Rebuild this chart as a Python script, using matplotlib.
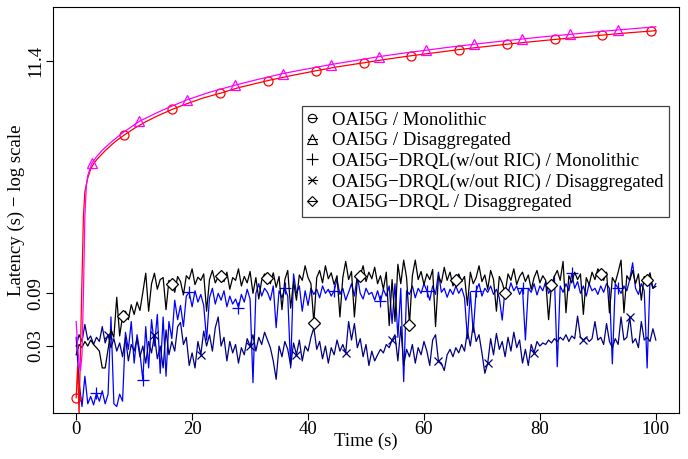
import numpy as np
import matplotlib
matplotlib.use("Agg")
import matplotlib.pyplot as plt
from matplotlib.lines import Line2D

plt.rcParams['font.family'] = ['Liberation Serif', 'DejaVu Serif']
plt.rcParams['font.size'] = 13.5

#--- OAI5G curves (smooth latency growth)
red_t = [0, 0.25, 0.5, 0.75, 1.0, 1.25, 1.5, 2.0, 2.5, 3, 3.5, 4, 5, 6, 7, 8.3, 10, 12, 14,
         16.6, 19, 22, 24.8, 28, 33.1, 37, 41.3, 45, 49.6, 54, 57.8, 62, 66.1, 70, 74.3, 78,
         82.6, 86, 90.8, 95, 99.1, 100]
red_v = [0.0102, 0.02, 0.0072, 0.03, 0.12, 0.45, 0.75, 1.0, 1.2, 1.34, 1.45, 1.55, 1.76, 1.97,
         2.18, 2.44, 2.8, 3.22, 3.63, 4.17, 4.67, 5.3, 5.82, 6.55, 7.6, 8.4, 9.3, 10.1, 11.0,
         11.95, 12.75, 13.6, 14.5, 15.3, 16.2, 16.95, 17.9, 18.6, 19.6, 20.5, 21.3, 21.5]
red_marks = [0, 8.3, 16.6, 24.8, 33.1, 41.3, 49.6, 57.8, 66.1, 74.3, 82.6, 90.8, 99.1]

mag_t = [0, 0.25, 0.5, 0.75, 1.0, 1.25, 1.5, 1.75, 2.0, 2.7, 3.5, 4.5, 6, 8, 10.9, 14, 16, 19.2,
         23, 27.4, 31, 35.7, 39, 43.9, 48, 52.2, 56, 60.4, 64, 68.7, 72, 76.9, 81, 85.2, 89,
         93.4, 97, 100]
mag_v = [0.05, 0.03, 0.021, 0.018, 0.025, 0.09, 0.45, 0.85, 1.05, 1.35, 1.55, 1.78, 2.1, 2.55,
         3.25, 3.9, 4.35, 5.1, 5.95, 6.9, 7.7, 8.8, 9.5, 10.6, 11.5, 12.5, 13.35, 14.3, 15.15,
         16.2, 16.95, 18.05, 19.0, 19.9, 20.8, 21.8, 22.6, 23.3]
mag_marks = [2.7, 10.9, 19.2, 27.4, 35.7, 43.9, 52.2, 60.4, 68.7, 76.9, 85.2, 93.4]

#--- DRQL variants, sampled every 0.5 s from t=0 to t=100
blue_v = [0.036, 0.014, 0.0085, 0.016, 0.009, 0.0105, 0.0088, 0.0112, 0.0095, 0.0118,
          0.009, 0.011, 0.055, 0.009, 0.0085, 0.011, 0.0095, 0.04, 0.028, 0.05,
          0.021, 0.038, 0.026, 0.0148, 0.045, 0.019, 0.052, 0.03, 0.058, 0.017,
          0.055, 0.016, 0.05, 0.035, 0.078, 0.052, 0.07, 0.045, 0.085, 0.092,
          0.068, 0.095, 0.075, 0.088, 0.07, 0.034, 0.082, 0.1, 0.072, 0.09,
          0.078, 0.095, 0.068, 0.085, 0.072, 0.08, 0.067, 0.088, 0.075, 0.098,
          0.08, 0.014, 0.09, 0.11, 0.085, 0.1, 0.092, 0.078, 0.105, 0.044,
          0.095, 0.082, 0.1, 0.085, 0.019, 0.135, 0.09, 0.105, 0.062, 0.095,
          0.07, 0.1, 0.088, 0.098, 0.082, 0.105, 0.09, 0.098, 0.085, 0.095,
          0.12, 0.088, 0.1, 0.078, 0.092, 0.11, 0.085, 0.13, 0.09, 0.08,
          0.1, 0.088, 0.092, 0.078, 0.095, 0.076, 0.098, 0.085, 0.105, 0.048,
          0.11, 0.036, 0.1, 0.0143, 0.095, 0.088, 0.105, 0.082, 0.1, 0.09,
          0.11, 0.095, 0.078, 0.105, 0.088, 0.14, 0.092, 0.1, 0.083, 0.098,
          0.088, 0.105, 0.09, 0.1, 0.082, 0.035, 0.092, 0.04, 0.095, 0.11,
          0.085, 0.1, 0.092, 0.105, 0.088, 0.098, 0.082, 0.0515, 0.1, 0.09,
          0.112, 0.095, 0.105, 0.088, 0.1, 0.034, 0.1, 0.092, 0.11, 0.087,
          0.105, 0.095, 0.115, 0.09, 0.1, 0.13, 0.0195, 0.105, 0.092, 0.11,
          0.095, 0.137, 0.1, 0.115, 0.09, 0.105, 0.085, 0.11, 0.095, 0.1,
          0.088, 0.105, 0.092, 0.11, 0.1, 0.0207, 0.11, 0.1, 0.09, 0.105,
          0.095, 0.12, 0.17, 0.1, 0.088, 0.11, 0.095, 0.019, 0.12, 0.1,
          0.11]
blue_marks = [3.5, 11.5, 19.5, 28.0, 36.0, 44.5, 52.5, 60.5, 69.0, 77.0, 85.5, 93.5]

navy_v = [0.03, 0.038, 0.033, 0.047, 0.034, 0.037, 0.031, 0.036, 0.033, 0.045,
          0.032, 0.038, 0.029, 0.035, 0.027, 0.032, 0.024, 0.036, 0.022, 0.031,
          0.027, 0.035, 0.024, 0.03, 0.021, 0.033, 0.026, 0.038, 0.023, 0.03,
          0.019, 0.042, 0.025, 0.033, 0.027, 0.045, 0.049, 0.031, 0.036, 0.02,
          0.026, 0.019, 0.033, 0.025, 0.041, 0.03, 0.038, 0.027, 0.044, 0.055,
          0.03, 0.036, 0.022, 0.033, 0.026, 0.031, 0.021, 0.029, 0.025, 0.035,
          0.03, 0.038, 0.027, 0.036, 0.031, 0.04, 0.034, 0.029, 0.022, 0.015,
          0.03, 0.024, 0.033, 0.028, 0.02, 0.032, 0.025, 0.034, 0.022, 0.03,
          0.027, 0.036, 0.044, 0.028, 0.033, 0.023, 0.03, 0.021, 0.029, 0.025,
          0.034, 0.027, 0.031, 0.026, 0.05, 0.034, 0.048, 0.029, 0.035, 0.024,
          0.031, 0.02, 0.027, 0.022, 0.025, 0.028, 0.026, 0.031, 0.029, 0.034,
          0.038, 0.022, 0.045, 0.02, 0.028, 0.024, 0.031, 0.021, 0.029, 0.025,
          0.033, 0.027, 0.02, 0.034, 0.038, 0.022, 0.021, 0.018, 0.025, 0.028,
          0.024, 0.029, 0.026, 0.031, 0.027, 0.041, 0.03, 0.047, 0.033, 0.038,
          0.026, 0.017, 0.021, 0.035, 0.025, 0.039, 0.028, 0.033, 0.024, 0.036,
          0.027, 0.04, 0.029, 0.034, 0.021, 0.028, 0.02, 0.031, 0.026, 0.033,
          0.03, 0.032, 0.031, 0.034, 0.032, 0.035, 0.033, 0.036, 0.034, 0.038,
          0.033, 0.037, 0.035, 0.056, 0.036, 0.034, 0.036, 0.033, 0.035, 0.05,
          0.034, 0.036, 0.031, 0.048, 0.033, 0.029, 0.035, 0.031, 0.055, 0.034,
          0.036, 0.055, 0.032, 0.035, 0.029, 0.05, 0.034, 0.036, 0.033, 0.043,
          0.034]
navy_marks = [5.5, 13.5, 21.5, 30.0, 38.0, 46.5, 54.5, 62.5, 71.0, 79.0, 87.5, 95.5]

black_v = [0.025, 0.031, 0.029, 0.033, 0.03, 0.034, 0.031, 0.029, 0.027, 0.019,
           0.019, 0.028, 0.042, 0.036, 0.083, 0.037, 0.056, 0.062, 0.052, 0.071,
           0.058, 0.075, 0.063, 0.092, 0.137, 0.062, 0.11, 0.137, 0.098, 0.12,
           0.125, 0.064, 0.118, 0.11, 0.092, 0.128, 0.115, 0.087, 0.13, 0.121,
           0.15, 0.108, 0.126, 0.118, 0.135, 0.062, 0.12, 0.145, 0.112, 0.127,
           0.13, 0.115, 0.14, 0.098, 0.125, 0.118, 0.15, 0.105, 0.128, 0.112,
           0.142, 0.09, 0.125, 0.08, 0.118, 0.135, 0.125, 0.11, 0.138, 0.102,
           0.128, 0.064, 0.12, 0.145, 0.066, 0.115, 0.078, 0.132, 0.118, 0.16,
           0.125, 0.11, 0.049, 0.125, 0.145, 0.112, 0.16, 0.122, 0.138, 0.108,
           0.13, 0.055, 0.125, 0.175, 0.12, 0.142, 0.055, 0.118, 0.13, 0.16,
           0.115, 0.14, 0.122, 0.155, 0.11, 0.13, 0.098, 0.14, 0.046, 0.12,
           0.05, 0.165, 0.11, 0.18, 0.125, 0.047, 0.13, 0.18, 0.12, 0.142,
           0.108, 0.135, 0.12, 0.148, 0.045, 0.13, 0.112, 0.155, 0.118, 0.14,
           0.105, 0.12, 0.135, 0.115, 0.128, 0.07, 0.14, 0.11, 0.125, 0.16,
           0.115, 0.132, 0.098, 0.145, 0.12, 0.062, 0.128, 0.112, 0.09, 0.135,
           0.118, 0.15, 0.108, 0.128, 0.14, 0.115, 0.132, 0.098, 0.125, 0.145,
           0.112, 0.13, 0.118, 0.052, 0.107, 0.128, 0.145, 0.118, 0.175, 0.06,
           0.13, 0.112, 0.14, 0.12, 0.135, 0.058, 0.125, 0.108, 0.14, 0.12,
           0.15, 0.135, 0.118, 0.14, 0.06, 0.125, 0.112, 0.14, 0.18, 0.06,
           0.13, 0.118, 0.145, 0.11, 0.135, 0.078, 0.128, 0.12, 0.138, 0.1,
           0.104]
black_marks = [8.0, 16.5, 25.0, 33.0, 41.0, 49.0, 57.5, 65.5, 74.0, 82.0, 90.5, 98.5]

labels = ["OAI5G / Monolithic", "OAI5G / Disaggregated",
          "OAI5G\u2212DRQL(w/out RIC) / Monolithic",
          "OAI5G\u2212DRQL(w/out RIC) / Disaggregated",
          "OAI5G\u2212DRQL / Disaggregated"]


def mark_idx(t, marks):
    t = np.asarray(t, dtype=float)
    return [int(np.argmin(np.abs(t - m))) for m in marks]


fig = plt.figure(figsize=(6.88, 4.59), dpi=100)
ax = fig.add_axes([53 / 688, 46 / 459, 626 / 688, 406 / 459])

lw = 0.9
t_blue = np.linspace(0, 100, len(blue_v))
t_navy = np.linspace(0, 100, len(navy_v))
t_black = np.linspace(0, 100, len(black_v))

ax.plot(t_blue, blue_v, color="blue", lw=lw, marker="+", ms=9, mew=0.9,
        markevery=mark_idx(t_blue, blue_marks))
ax.plot(t_navy, navy_v, color="navy", lw=lw, marker="x", ms=6, mew=0.9,
        markevery=mark_idx(t_navy, navy_marks))
ax.plot(t_black, black_v, color="black", lw=lw, marker="D", ms=6, mew=0.9, mfc="white",
        markevery=mark_idx(t_black, black_marks))
ax.plot(red_t, red_v, color="red", lw=lw, marker="o", ms=6.5, mew=0.9, mfc="none",
        markevery=mark_idx(red_t, red_marks))
ax.plot(mag_t, mag_v, color="magenta", lw=lw, marker="^", ms=7.5, mew=0.9, mfc="none",
        markevery=mark_idx(mag_t, mag_marks))

ax.set_yscale("log")
ax.set_xlim(-4, 104)
ax.set_ylim(0.00743, 35.2)
ax.set_xticks([0, 20, 40, 60, 80, 100])
ax.set_yticks([0.03, 0.09, 11.4])
ax.set_yticklabels(["0.03", "0.09", "11.4"], rotation=90, va="center")
ax.yaxis.set_minor_locator(matplotlib.ticker.NullLocator())
ax.tick_params(direction="out", length=5, width=0.8, pad=1)
ax.set_xlabel("Time (s)", labelpad=-4)
ax.set_ylabel("Latency (s) \u2212 log scale", labelpad=2)

# legend uses black symbols like the R default
handles = [
    Line2D([], [], color="black", lw=0.8, marker="o", ms=6, mfc="none", mew=0.8),
    Line2D([], [], color="black", lw=0.8, marker="^", ms=6.5, mfc="none", mew=0.8),
    Line2D([], [], color="black", lw=0.8, marker="+", ms=8, mew=0.8),
    Line2D([], [], color="black", lw=0.8, marker="x", ms=6, mew=0.8),
    Line2D([], [], color="black", lw=0.8, marker="D", ms=5.5, mfc="none", mew=0.8),
]
leg = ax.legend(handles, labels, loc="upper left", bbox_to_anchor=(0.398, 0.756),
                frameon=True, fancybox=False, edgecolor="#444444", framealpha=1,
                handlelength=0.5, handletextpad=0.8, labelspacing=0.18,
                borderpad=0.3, borderaxespad=0)
leg.get_frame().set_linewidth(0.9)

fig.savefig("out.png", dpi=100)
